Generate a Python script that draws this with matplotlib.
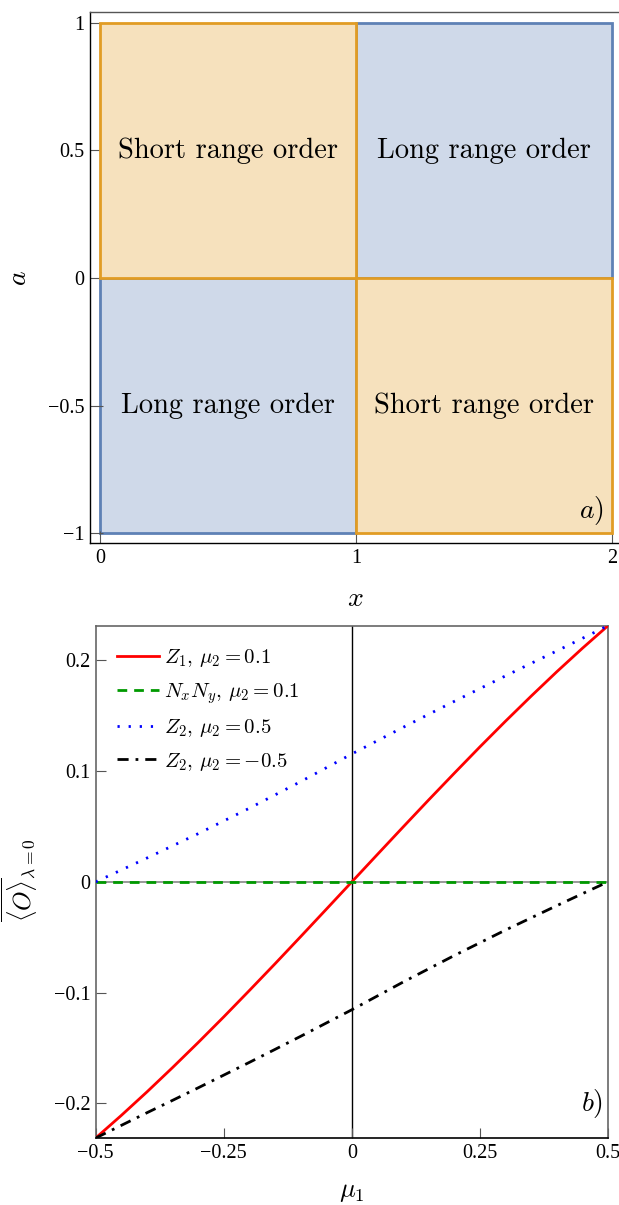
import matplotlib
matplotlib.use("Agg")
import matplotlib.pyplot as plt
from matplotlib.patches import Rectangle

plt.rcParams['mathtext.fontset'] = 'cm'
plt.rcParams['axes.unicode_minus'] = True

# ---------------- data: panel a ----------------
regions_x0 = [1, 0, 0, 1]
regions_y0 = [0, -1, 0, -1]
regions_kind = ['long', 'long', 'short', 'short']
region_labels = {'short': 'Short range order', 'long': 'Long range order'}
a_xticks = [0, 1, 2]
a_yticks = [-1, -0.5, 0, 0.5, 1]
a_xticklabels = ['0', '1', '2']
a_yticklabels = ['\u22121', '\u22120.5', '0', '0.5', '1']

# ---------------- data: panel b ----------------
mu1 = [-0.5, -0.45, -0.4, -0.35, -0.3, -0.25, -0.2, -0.15, -0.1, -0.05, 0.0,
       0.05, 0.1, 0.15, 0.2, 0.25, 0.3, 0.35, 0.4, 0.45, 0.5]
z1_mu01 = [-0.2313, -0.2109, -0.1897, -0.1677, -0.1451, -0.1219, -0.0981, -0.0740,
           -0.0495, -0.0248, 0.0, 0.0248, 0.0495, 0.0740, 0.0981, 0.1219, 0.1451,
           0.1677, 0.1897, 0.2109, 0.2313]
nxny_mu01 = [0.0] * 21
z2_mu05 = [0.0, 0.0107, 0.0215, 0.0325, 0.0435, 0.0550, 0.0665, 0.0785, 0.0905,
           0.1030, 0.1155, 0.1275, 0.1395, 0.1513, 0.1630, 0.1745, 0.1860, 0.1973,
           0.2085, 0.2199, 0.2313]
z2_mum05 = [-0.2313, -0.2199, -0.2085, -0.1973, -0.1860, -0.1745, -0.1630, -0.1513,
            -0.1395, -0.1275, -0.1155, -0.1030, -0.0905, -0.0785, -0.0665, -0.0550,
            -0.0435, -0.0325, -0.0215, -0.0107, 0.0]
series_labels = [r'$Z_1,\,\mu_2=0.1$', r'$N_xN_y,\,\mu_2=0.1$',
                 r'$Z_2,\,\mu_2=0.5$', r'$Z_2,\,\mu_2=-0.5$']
b_xticks = [-0.5, -0.25, 0, 0.25, 0.5]
b_xticklabels = ['\u22120.5', '\u22120.25', '0', '0.25', '0.5']
b_yticks = [-0.2, -0.1, 0, 0.1, 0.2]
b_yticklabels = ['\u22120.2', '\u22120.1', '0', '0.1', '0.2']

W, H = 619, 1205
fig = plt.figure(figsize=(W / 100, H / 100), dpi=100)

tickfont = dict(family='Liberation Serif', size=14.5)

# ---------------- panel a ----------------
axa = fig.add_axes([90 / W, (H - 543.5) / H, 535 / W, 531.5 / H])
axa.set_xlim(-0.039, 2.051)
axa.set_ylim(-1.041, 1.043)
fill = {'long': '#CFD9E9', 'short': '#F6E1BD'}
edge = {'long': '#5E81B5', 'short': '#E19C24'}
for kind in ['long', 'short']:
    for x0, y0, k in zip(regions_x0, regions_y0, regions_kind):
        if k != kind:
            continue
        axa.add_patch(Rectangle((x0, y0), 1, 1, facecolor=fill[k], edgecolor=edge[k],
                                linewidth=2.0, zorder=2 if k == 'short' else 1))
for x0, y0, k in zip(regions_x0, regions_y0, regions_kind):
    axa.text(x0 + 0.5, y0 + 0.5, region_labels[k], family='cmr10', size=20.5,
             ha='center', va='center', zorder=5)
axa.text(1.97, -0.91, r'$a)$', size=20, ha='right', va='center', zorder=5)
axa.set_xticks(a_xticks)
axa.set_xticklabels(a_xticklabels, **tickfont)
axa.set_yticks(a_yticks)
axa.set_yticklabels(a_yticklabels, **tickfont)
axa.tick_params(direction='in', length=9, width=0.8, color='#555555', pad=4)
axa.spines['right'].set_visible(False)
axa.spines['top'].set_color('#555555')
for s in axa.spines.values():
    s.set_linewidth(1.0)
axa.set_xlabel(r'$x$', size=20)
axa.set_ylabel(r'$a$', size=20)
axa.xaxis.set_label_coords((355 - 90) / 535, -(598 - 543.5) / 531.5)
axa.yaxis.set_label_coords((18 - 90) / 535, 0.5)
axa.xaxis.label.set_va('center')
axa.yaxis.label.set_va('center')

# ---------------- panel b ----------------
axb = fig.add_axes([95.7 / W, (H - 1138) / H, 512.3 / W, 512.3 / H])
axb.set_xlim(-0.5, 0.5)
axb.set_ylim(-0.2313, 0.2313)
axb.axhline(0, color='#888888', lw=1.2, zorder=1)
axb.axvline(0, color='black', lw=1.0, zorder=1)
axb.plot(mu1, z1_mu01, color='#FF0000', lw=2.0, ls='-', label=series_labels[0], zorder=3)
axb.plot(mu1, nxny_mu01, color='#009900', lw=2.0, ls=(0, (3.5, 2.5)), label=series_labels[1], zorder=3)
axb.plot(mu1, z2_mu05, color='#0000FF', lw=2.0, ls=(0, (0.8, 3.2)), label=series_labels[2], zorder=3)
axb.plot(mu1, z2_mum05, color='black', lw=2.0, ls=(0, (4, 2.5, 1, 2.5)), label=series_labels[3], zorder=3)
leg = axb.legend(loc='upper left', frameon=False, fontsize=15, handlelength=2.0,
                 handletextpad=0.25, labelspacing=0.55, borderaxespad=0.4,
                 bbox_to_anchor=(0.01, 0.99))
axb.text(0.49, -0.20, r'$b)$', size=20, ha='right', va='center')
axb.set_xticks(b_xticks)
axb.set_xticklabels(b_xticklabels, **tickfont)
axb.set_yticks(b_yticks)
axb.set_yticklabels(b_yticklabels, **tickfont)
axb.tick_params(direction='in', length=7, width=0.8, color='#555555', pad=4)
for name, s in axb.spines.items():
    s.set_linewidth(1.2)
    s.set_color('black' if name == 'bottom' else '#666666')
axb.set_xlabel(r'$\mu_1$', size=19)
axb.set_ylabel(r'$\overline{\langle O\rangle}_{\lambda=0}$', size=18)
axb.xaxis.set_label_coords((352 - 95.7) / 512.3, -(1191 - 1138) / 512.3)
axb.yaxis.set_label_coords((20 - 95.7) / 512.3, (1138 - 880) / 512.3)
axb.xaxis.label.set_va('center')
axb.yaxis.label.set_va('center')

fig.savefig('out.png', dpi=100)
